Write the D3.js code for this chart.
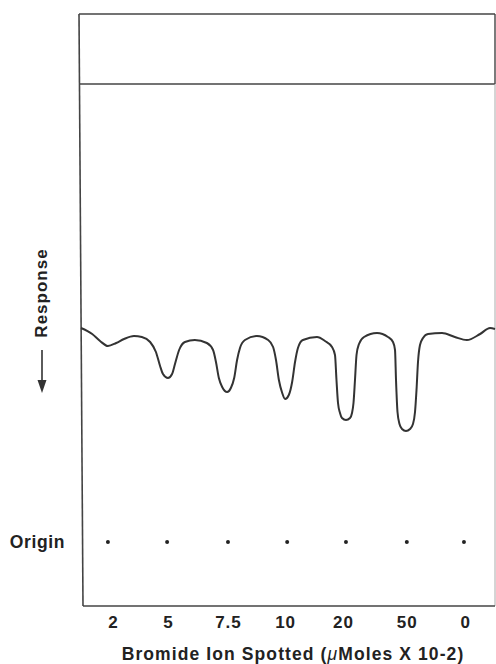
<!DOCTYPE html>
<html>
<head>
<meta charset="utf-8">
<script src="https://cdn.jsdelivr.net/npm/d3@7"></script>
<style>
  body { margin: 0; background: #fff; }
  svg { display: block; }
  text { font-family: "Liberation Sans", Arial, sans-serif; font-weight: bold; fill: #222; }
</style>
</head>
<body>
<svg id="chart" width="496" height="664"></svg>
<script>
// trace position along the plate (% of scan length) and detector response (arbitrary units, downward)
var traceX = [0, 2.7, 4.6, 6.5, 8.5, 10.4, 12.8, 14.7, 16.7, 18.1, 19.1, 19.8, 21.0, 22.0, 22.7, 23.7, 25.1,
	27.5, 30.4, 31.9, 32.6, 33.3, 34.1, 35.3, 36.2, 37.0, 37.7, 38.4, 39.6,
	42.5, 45.2, 46.4, 47.1, 47.8, 48.6, 49.3, 50.2, 51.0, 51.7, 52.4, 53.6,
	57.0, 58.94, 60.63, 61.35, 61.71, 62.08, 62.56, 63.04, 64.01, 64.98, 65.46, 65.82, 66.18, 66.55, 67.15, 68.36,
	71.5, 74.15, 75.36, 75.85, 76.09, 76.45, 76.93, 77.54, 78.50, 79.47, 80.19, 80.68, 81.04, 81.40, 81.88, 82.61, 83.82,
	87.2, 90.3, 93.2, 96.4, 98.8, 100];
var traceY = [0, 6, 13, 18, 15, 11, 8, 9, 14, 24, 38, 46, 50, 46, 36, 22, 14,
	12, 15, 22, 34, 50, 59, 64, 60, 50, 32, 20, 12,
	8, 12, 19, 32, 52, 65, 71, 67, 54, 34, 20, 12,
	9, 13, 19, 27, 52, 75, 85, 90, 92, 90, 85, 75, 52, 27, 16, 9,
	5, 9, 14, 22, 52, 84, 96, 101, 103, 101, 96, 84, 62, 34, 17, 10, 6,
	5, 9, 12, 6, 0, 1];

// spots at the origin and the amount spotted under each
var spotX = [6.5, 20.8, 35.5, 49.8, 64.0, 78.7, 92.5];
var labelX = [7.7, 21.0, 35.5, 49.3, 63.3, 78.7, 92.8];
var amounts = ["2", "5", "7.5", "10", "20", "50", "0"];

var svg = d3.select("#chart");

var plotLeft = 81, plotRight = 495, plotTop = 14, bandY = 84, plotBottom = 606, originY = 542;

var xScale = d3.scaleLinear().domain([0, 100]).range([plotLeft, plotRight]);
var yScale = d3.scaleLinear().domain([0, 100]).range([328, 428]);

// frame
var frame = svg.append("g").attr("stroke", "#444").attr("stroke-width", 1.6).attr("fill", "none");
frame.append("line").attr("x1", plotLeft - 2).attr("y1", plotTop).attr("x2", plotRight).attr("y2", plotTop);
frame.append("line").attr("x1", plotLeft - 2).attr("y1", bandY).attr("x2", plotRight).attr("y2", bandY);
frame.append("line").attr("x1", plotLeft - 2).attr("y1", plotTop).attr("x2", plotLeft + 2).attr("y2", plotBottom);
frame.append("line").attr("x1", plotRight).attr("y1", plotTop).attr("x2", plotRight).attr("y2", bandY)
	.attr("stroke-width", 1.4);
frame.append("line").attr("x1", plotRight).attr("y1", bandY).attr("x2", plotRight).attr("y2", plotBottom)
	.attr("stroke", "#aaa").attr("stroke-width", 1);

// x axis along the bottom line
var axis = d3.axisBottom(xScale)
	.tickValues(labelX)
	.tickSize(0)
	.tickPadding(10)
	.tickFormat(function(d, i) { return amounts[i]; });

var ax = svg.append("g").attr("transform", "translate(0," + plotBottom + ")").call(axis);
ax.select(".domain").attr("stroke", "#444").attr("stroke-width", 1.6)
	.attr("d", "M" + (plotLeft + 2) + ",0H" + plotRight);
ax.selectAll("text")
	.attr("font-family", "Liberation Sans, Arial, sans-serif")
	.attr("font-size", 17)
	.attr("font-weight", "bold")
	.attr("fill", "#222")
	.style("letter-spacing", "1px");

svg.append("text")
	.attr("x", 293).attr("y", 660)
	.attr("text-anchor", "middle")
	.attr("font-size", 17.5)
	.style("letter-spacing", "1.1px")
	.html('Bromide Ion Spotted (<tspan font-weight="normal" font-style="italic">\u03BC</tspan>Moles X 10-2)');

// response trace
var pts = d3.zip(traceX, traceY);
var line = d3.line()
	.x(function(d) { return xScale(d[0]); })
	.y(function(d) { return yScale(d[1]); })
	.curve(d3.curveMonotoneX);

svg.append("path")
	.datum(pts)
	.attr("d", line)
	.attr("fill", "none")
	.attr("stroke", "#333")
	.attr("stroke-width", 2);

// spots at origin
svg.selectAll("circle.spot").data(spotX)
	.enter().append("circle")
	.attr("class", "spot")
	.attr("cx", function(d) { return xScale(d); })
	.attr("cy", originY)
	.attr("r", 2)
	.attr("fill", "#222");

svg.append("text")
	.attr("x", 65).attr("y", originY + 6)
	.attr("text-anchor", "end")
	.attr("font-size", 17.5)
	.style("letter-spacing", "0.6px")
	.text("Origin");

// response label with downward arrow
svg.append("text")
	.attr("transform", "translate(47,293) rotate(-90)")
	.attr("text-anchor", "middle")
	.attr("font-size", 17)
	.style("letter-spacing", "1px")
	.text("Response");

svg.append("line")
	.attr("x1", 42).attr("y1", 350).attr("x2", 42).attr("y2", 382)
	.attr("stroke", "#333").attr("stroke-width", 1.6);
svg.append("path")
	.attr("d", "M37.5,380L46.5,380L42,393Z")
	.attr("fill", "#333");
</script>
</body>
</html>
